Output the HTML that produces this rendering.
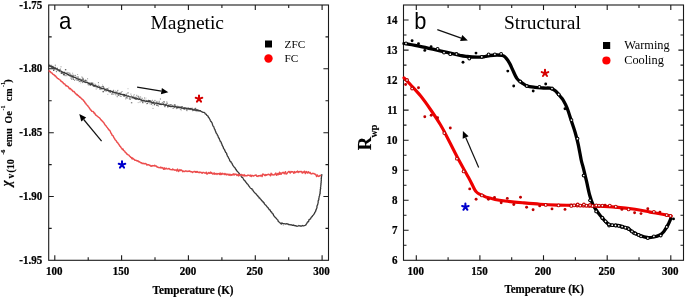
<!DOCTYPE html>
<html><head><meta charset="utf-8"><style>
html,body{margin:0;padding:0;background:#fff;}
body{width:685px;height:298px;overflow:hidden;}
svg{display:block;will-change:transform;}

</style></head><body>
<svg width="685" height="298" viewBox="0 0 685 298">
<rect x="48.7" y="5" width="279.8" height="255.3" fill="none" stroke="#1a1a1a" stroke-width="1.1"/>
<path d="M54.8 260.3v-5.1M54.8 5v5.1M121.6 260.3v-5.1M121.6 5v5.1M188.4 260.3v-5.1M188.4 5v5.1M255.3 260.3v-5.1M255.3 5v5.1M322.1 260.3v-5.1M322.1 5v5.1M88.2 260.3v-3M88.2 5v3M155 260.3v-3M155 5v3M221.9 260.3v-3M221.9 5v3M288.7 260.3v-3M288.7 5v3M48.7 68.8h5.1M328.5 68.8h-5.1M48.7 132.7h5.1M328.5 132.7h-5.1M48.7 196.5h5.1M328.5 196.5h-5.1M48.7 36.9h3M328.5 36.9h-3M48.7 100.7h3M328.5 100.7h-3M48.7 164.6h3M328.5 164.6h-3M48.7 228.4h3M328.5 228.4h-3" stroke="#1a1a1a" stroke-width="1.1" fill="none"/>
<rect x="403.5" y="5" width="280.0" height="255.3" fill="none" stroke="#1a1a1a" stroke-width="1.1"/>
<path d="M416.3 260.3v-5.1M416.3 5v5.1M479.9 260.3v-5.1M479.9 5v5.1M543.5 260.3v-5.1M543.5 5v5.1M607.2 260.3v-5.1M607.2 5v5.1M670.8 260.3v-5.1M670.8 5v5.1M448.1 260.3v-3M448.1 5v3M511.7 260.3v-3M511.7 5v3M575.4 260.3v-3M575.4 5v3M639 260.3v-3M639 5v3M403.5 230.3h5.1M683.5 230.3h-5.1M403.5 200.2h5.1M683.5 200.2h-5.1M403.5 170.2h5.1M683.5 170.2h-5.1M403.5 140.2h5.1M683.5 140.2h-5.1M403.5 110.1h5.1M683.5 110.1h-5.1M403.5 80.1h5.1M683.5 80.1h-5.1M403.5 50.1h5.1M683.5 50.1h-5.1M403.5 20h5.1M683.5 20h-5.1M403.5 245.3h3M683.5 245.3h-3M403.5 215.2h3M683.5 215.2h-3M403.5 185.2h3M683.5 185.2h-3M403.5 155.2h3M683.5 155.2h-3M403.5 125.1h3M683.5 125.1h-3M403.5 95.1h3M683.5 95.1h-3M403.5 65.1h3M683.5 65.1h-3M403.5 35h3M683.5 35h-3" stroke="#1a1a1a" stroke-width="1.1" fill="none"/>
<text transform="translate(54.3 275.1) scale(0.94 1)" font-family="Liberation Serif" font-weight="bold" font-size="11.7" stroke="#000" stroke-width="0.25" text-anchor="middle">100</text>
<text transform="translate(415.8 275.1) scale(0.94 1)" font-family="Liberation Serif" font-weight="bold" font-size="11.7" stroke="#000" stroke-width="0.25" text-anchor="middle">100</text>
<text transform="translate(121.1 275.1) scale(0.94 1)" font-family="Liberation Serif" font-weight="bold" font-size="11.7" stroke="#000" stroke-width="0.25" text-anchor="middle">150</text>
<text transform="translate(479.4 275.1) scale(0.94 1)" font-family="Liberation Serif" font-weight="bold" font-size="11.7" stroke="#000" stroke-width="0.25" text-anchor="middle">150</text>
<text transform="translate(187.9 275.1) scale(0.94 1)" font-family="Liberation Serif" font-weight="bold" font-size="11.7" stroke="#000" stroke-width="0.25" text-anchor="middle">200</text>
<text transform="translate(543 275.1) scale(0.94 1)" font-family="Liberation Serif" font-weight="bold" font-size="11.7" stroke="#000" stroke-width="0.25" text-anchor="middle">200</text>
<text transform="translate(254.8 275.1) scale(0.94 1)" font-family="Liberation Serif" font-weight="bold" font-size="11.7" stroke="#000" stroke-width="0.25" text-anchor="middle">250</text>
<text transform="translate(606.7 275.1) scale(0.94 1)" font-family="Liberation Serif" font-weight="bold" font-size="11.7" stroke="#000" stroke-width="0.25" text-anchor="middle">250</text>
<text transform="translate(321.6 275.1) scale(0.94 1)" font-family="Liberation Serif" font-weight="bold" font-size="11.7" stroke="#000" stroke-width="0.25" text-anchor="middle">300</text>
<text transform="translate(670.3 275.1) scale(0.94 1)" font-family="Liberation Serif" font-weight="bold" font-size="11.7" stroke="#000" stroke-width="0.25" text-anchor="middle">300</text>
<text transform="translate(42.2 8.5) scale(0.94 1)" font-family="Liberation Serif" font-weight="bold" font-size="11.7" stroke="#000" stroke-width="0.25" text-anchor="end">-1.75</text>
<text transform="translate(42.2 72.3) scale(0.94 1)" font-family="Liberation Serif" font-weight="bold" font-size="11.7" stroke="#000" stroke-width="0.25" text-anchor="end">-1.80</text>
<text transform="translate(42.2 136.2) scale(0.94 1)" font-family="Liberation Serif" font-weight="bold" font-size="11.7" stroke="#000" stroke-width="0.25" text-anchor="end">-1.85</text>
<text transform="translate(42.2 200) scale(0.94 1)" font-family="Liberation Serif" font-weight="bold" font-size="11.7" stroke="#000" stroke-width="0.25" text-anchor="end">-1.90</text>
<text transform="translate(42.2 263.8) scale(0.94 1)" font-family="Liberation Serif" font-weight="bold" font-size="11.7" stroke="#000" stroke-width="0.25" text-anchor="end">-1.95</text>
<text transform="translate(397.6 264.3) scale(0.94 1)" font-family="Liberation Serif" font-weight="bold" font-size="11.7" stroke="#000" stroke-width="0.25" text-anchor="end">6</text>
<text transform="translate(397.6 234.3) scale(0.94 1)" font-family="Liberation Serif" font-weight="bold" font-size="11.7" stroke="#000" stroke-width="0.25" text-anchor="end">7</text>
<text transform="translate(397.6 204.2) scale(0.94 1)" font-family="Liberation Serif" font-weight="bold" font-size="11.7" stroke="#000" stroke-width="0.25" text-anchor="end">8</text>
<text transform="translate(397.6 174.2) scale(0.94 1)" font-family="Liberation Serif" font-weight="bold" font-size="11.7" stroke="#000" stroke-width="0.25" text-anchor="end">9</text>
<text transform="translate(397.6 144.2) scale(0.94 1)" font-family="Liberation Serif" font-weight="bold" font-size="11.7" stroke="#000" stroke-width="0.25" text-anchor="end">10</text>
<text transform="translate(397.6 114.1) scale(0.94 1)" font-family="Liberation Serif" font-weight="bold" font-size="11.7" stroke="#000" stroke-width="0.25" text-anchor="end">11</text>
<text transform="translate(397.6 84.1) scale(0.94 1)" font-family="Liberation Serif" font-weight="bold" font-size="11.7" stroke="#000" stroke-width="0.25" text-anchor="end">12</text>
<text transform="translate(397.6 54.1) scale(0.94 1)" font-family="Liberation Serif" font-weight="bold" font-size="11.7" stroke="#000" stroke-width="0.25" text-anchor="end">13</text>
<text transform="translate(397.6 24) scale(0.94 1)" font-family="Liberation Serif" font-weight="bold" font-size="11.7" stroke="#000" stroke-width="0.25" text-anchor="end">14</text>
<text x="152.6" y="293.6" font-family="Liberation Serif" font-weight="bold" font-size="11.6" stroke="#000" stroke-width="0.2" textLength="81" lengthAdjust="spacingAndGlyphs">Temperature (K)</text>
<text x="504.4" y="293.4" font-family="Liberation Serif" font-weight="bold" font-size="11.6" stroke="#000" stroke-width="0.2" textLength="79.6" lengthAdjust="spacingAndGlyphs">Temperature (K)</text>
<text transform="translate(59 28.9) scale(0.93 1)" font-family="Liberation Sans" font-size="24">a</text>
<text x="150.4" y="29.2" font-family="Liberation Serif" font-size="19.5">Magnetic</text>
<text transform="translate(414.2 28.5) scale(0.95 1)" font-family="Liberation Sans" font-size="23">b</text>
<text x="504" y="29.1" font-family="Liberation Serif" font-size="19.5">Structural</text>
<rect x="265" y="40.5" width="7" height="7" fill="#000"/>
<circle cx="268.5" cy="58.5" r="4.2" fill="#f00"/>
<text x="284.6" y="47.6" font-family="Liberation Serif" font-size="11.2">ZFC</text>
<text x="284.6" y="62.3" font-family="Liberation Serif" font-size="11.2">FC</text>
<rect x="603" y="42" width="7.2" height="7" fill="#000"/>
<circle cx="606.4" cy="60.5" r="4.1" fill="#f00"/>
<text x="624.2" y="49.3" font-family="Liberation Serif" font-size="12.3">Warming</text>
<text x="624.2" y="64" font-family="Liberation Serif" font-size="12.3">Cooling</text>
<text transform="translate(11.4 186.2) rotate(-90) scale(0.88 1)" font-family="Liberation Serif" font-weight="bold" font-style="italic" font-size="14.5" stroke="#000" stroke-width="0.2">&#967;</text>
<text transform="translate(14 178.4) rotate(-90)" font-family="Liberation Serif" font-weight="bold" font-size="9.4" stroke="#000" stroke-width="0.15" >v</text>
<text transform="translate(14.2 172.8) rotate(-90)" font-family="Liberation Serif" font-weight="bold" font-size="10.4" stroke="#000" stroke-width="0.15" >(10</text>
<text transform="translate(5.2 154.8) rotate(-90)" font-family="Liberation Serif" font-weight="bold" font-size="6.4" stroke="#000" stroke-width="0.15" >-6</text>
<text transform="translate(12.1 146.6) rotate(-90)" font-family="Liberation Serif" font-weight="bold" font-size="10" stroke="#000" stroke-width="0.15" >emu</text>
<text transform="translate(12.1 123.4) rotate(-90)" font-family="Liberation Serif" font-weight="bold" font-size="10" stroke="#000" stroke-width="0.15" >Oe</text>
<text transform="translate(4.7 110.4) rotate(-90)" font-family="Liberation Serif" font-weight="bold" font-size="6" stroke="#000" stroke-width="0.15" >-1</text>
<text transform="translate(11.9 101.2) rotate(-90)" font-family="Liberation Serif" font-weight="bold" font-size="10" stroke="#000" stroke-width="0.15" >cm</text>
<text transform="translate(4.7 87.1) rotate(-90)" font-family="Liberation Serif" font-weight="bold" font-size="6" stroke="#000" stroke-width="0.15" >-1</text>
<text transform="translate(11.3 82.8) rotate(-90)" font-family="Liberation Serif" font-weight="bold" font-size="10" stroke="#000" stroke-width="0.15" >)</text>
<text transform="translate(371.1 150.2) rotate(-90)" font-family="Liberation Serif" font-weight="bold" font-size="18.5" stroke="#000" stroke-width="0.15" >R</text>
<text transform="translate(377.2 137.4) rotate(-90)" font-family="Liberation Serif" font-weight="bold" font-size="10" stroke="#000" stroke-width="0.15" >wp</text>
<g fill="#333"><rect x="48" y="64.4" width="1.0" height="1.0" opacity="0.29"/><rect x="48" y="66.6" width="1.0" height="1.0" opacity="0.53"/><rect x="48.6" y="65.9" width="1.0" height="1.0" opacity="0.70"/><rect x="48.8" y="65.5" width="1.0" height="1.0" opacity="0.77"/><rect x="49.3" y="66.1" width="1.0" height="1.0" opacity="0.41"/><rect x="49.7" y="65.5" width="1.0" height="1.0" opacity="0.70"/><rect x="50.1" y="64.9" width="1.0" height="1.0" opacity="0.28"/><rect x="50.4" y="64.7" width="1.0" height="1.0" opacity="0.49"/><rect x="51.2" y="64.9" width="1.0" height="1.0" opacity="0.63"/><rect x="50.7" y="66.5" width="1.4" height="1.4" opacity="0.73"/><rect x="51.8" y="67.5" width="1.0" height="1.0" opacity="0.67"/><rect x="51.7" y="66.2" width="1.4" height="1.4" opacity="0.62"/><rect x="52.6" y="68" width="1.0" height="1.0" opacity="0.58"/><rect x="52.7" y="65.9" width="1.0" height="1.0" opacity="0.77"/><rect x="53" y="69.6" width="1.4" height="1.4" opacity="0.80"/><rect x="53.3" y="68.3" width="1.0" height="1.0" opacity="0.62"/><rect x="53.9" y="68.5" width="1.0" height="1.0" opacity="0.67"/><rect x="54.1" y="68.4" width="1.0" height="1.0" opacity="0.73"/><rect x="54.8" y="64.7" width="1.0" height="1.0" opacity="0.73"/><rect x="54.4" y="66.8" width="1.4" height="1.4" opacity="0.74"/><rect x="55.4" y="69" width="1.0" height="1.0" opacity="0.52"/><rect x="55.7" y="70.6" width="1.0" height="1.0" opacity="0.48"/><rect x="56" y="71.2" width="1.0" height="1.0" opacity="0.59"/><rect x="56.4" y="67.8" width="1.4" height="1.4" opacity="0.68"/><rect x="56.8" y="67.8" width="1.0" height="1.0" opacity="0.60"/><rect x="56.7" y="70.2" width="1.0" height="1.0" opacity="0.34"/><rect x="58.1" y="70.4" width="1.0" height="1.0" opacity="0.45"/><rect x="57.7" y="69.5" width="1.0" height="1.0" opacity="0.33"/><rect x="58.6" y="69.3" width="1.0" height="1.0" opacity="0.80"/><rect x="58.4" y="70.5" width="1.0" height="1.0" opacity="0.31"/><rect x="59.1" y="71.1" width="1.0" height="1.0" opacity="0.77"/><rect x="59.7" y="69.3" width="1.0" height="1.0" opacity="0.26"/><rect x="60.3" y="72.3" width="1.0" height="1.0" opacity="0.45"/><rect x="59.9" y="68.6" width="1.0" height="1.0" opacity="0.68"/><rect x="60.8" y="72.6" width="1.4" height="1.4" opacity="0.69"/><rect x="60.5" y="66.3" width="1.0" height="1.0" opacity="0.53"/><rect x="61.4" y="72.4" width="1.4" height="1.4" opacity="0.63"/><rect x="61.3" y="71.3" width="1.4" height="1.4" opacity="0.79"/><rect x="62.7" y="71.9" width="1.0" height="1.0" opacity="0.36"/><rect x="62.6" y="72.8" width="1.0" height="1.0" opacity="0.51"/><rect x="62.9" y="73.9" width="1.4" height="1.4" opacity="0.68"/><rect x="63.3" y="73.3" width="1.0" height="1.0" opacity="0.68"/><rect x="63.4" y="73.8" width="1.4" height="1.4" opacity="0.77"/><rect x="63.9" y="71.8" width="1.4" height="1.4" opacity="0.33"/><rect x="64.6" y="74.6" width="1.0" height="1.0" opacity="0.61"/><rect x="64.5" y="75" width="1.4" height="1.4" opacity="0.26"/><rect x="64.9" y="69" width="1.4" height="1.4" opacity="0.73"/><rect x="65.4" y="72.4" width="1.0" height="1.0" opacity="0.41"/><rect x="66.1" y="73.3" width="1.0" height="1.0" opacity="0.75"/><rect x="66.4" y="75.2" width="1.0" height="1.0" opacity="0.75"/><rect x="66.6" y="71.7" width="1.0" height="1.0" opacity="0.26"/><rect x="66.8" y="73.7" width="1.0" height="1.0" opacity="0.69"/><rect x="67.8" y="73.8" width="1.0" height="1.0" opacity="0.54"/><rect x="67.4" y="72" width="1.0" height="1.0" opacity="0.56"/><rect x="68.1" y="74.6" width="1.4" height="1.4" opacity="0.67"/><rect x="68.5" y="72.5" width="1.0" height="1.0" opacity="0.53"/><rect x="69.4" y="72.8" width="1.0" height="1.0" opacity="0.77"/><rect x="69.5" y="75.4" width="1.0" height="1.0" opacity="0.39"/><rect x="69.6" y="75.6" width="1.0" height="1.0" opacity="0.49"/><rect x="70" y="74.2" width="1.4" height="1.4" opacity="0.62"/><rect x="70.8" y="76.8" width="1.4" height="1.4" opacity="0.33"/><rect x="70.6" y="77.7" width="1.0" height="1.0" opacity="0.77"/><rect x="71.2" y="79" width="1.0" height="1.0" opacity="0.49"/><rect x="70.8" y="75.4" width="1.4" height="1.4" opacity="0.43"/><rect x="72.1" y="72.7" width="1.0" height="1.0" opacity="0.43"/><rect x="72.3" y="74.7" width="1.4" height="1.4" opacity="0.79"/><rect x="72.6" y="78.6" width="1.0" height="1.0" opacity="0.68"/><rect x="72.5" y="77.1" width="1.4" height="1.4" opacity="0.75"/><rect x="73.2" y="79" width="1.0" height="1.0" opacity="0.64"/><rect x="74" y="79.9" width="1.0" height="1.0" opacity="0.48"/><rect x="74.6" y="75.1" width="1.0" height="1.0" opacity="0.72"/><rect x="74.7" y="74.8" width="1.0" height="1.0" opacity="0.44"/><rect x="74.8" y="77.3" width="1.0" height="1.0" opacity="0.38"/><rect x="74.9" y="79.2" width="1.0" height="1.0" opacity="0.36"/><rect x="75.5" y="77.9" width="1.0" height="1.0" opacity="0.35"/><rect x="75.7" y="76.2" width="1.4" height="1.4" opacity="0.26"/><rect x="76.3" y="78.6" width="1.4" height="1.4" opacity="0.31"/><rect x="76.6" y="79.9" width="1.0" height="1.0" opacity="0.71"/><rect x="77.3" y="76.4" width="1.4" height="1.4" opacity="0.71"/><rect x="77.1" y="74" width="1.0" height="1.0" opacity="0.44"/><rect x="78.4" y="81.3" width="1.0" height="1.0" opacity="0.34"/><rect x="77.9" y="79.9" width="1.0" height="1.0" opacity="0.62"/><rect x="79.2" y="78.5" width="1.0" height="1.0" opacity="0.50"/><rect x="79.2" y="80.9" width="1.0" height="1.0" opacity="0.55"/><rect x="79.6" y="78.2" width="1.0" height="1.0" opacity="0.46"/><rect x="79.4" y="80.8" width="1.0" height="1.0" opacity="0.53"/><rect x="80.1" y="82.5" width="1.0" height="1.0" opacity="0.26"/><rect x="80.3" y="80.4" width="1.4" height="1.4" opacity="0.54"/><rect x="80.6" y="79" width="1.4" height="1.4" opacity="0.43"/><rect x="81.4" y="76.5" width="1.0" height="1.0" opacity="0.60"/><rect x="81.9" y="82.1" width="1.0" height="1.0" opacity="0.70"/><rect x="81.9" y="78.5" width="1.4" height="1.4" opacity="0.71"/><rect x="82.2" y="77.4" width="1.0" height="1.0" opacity="0.63"/><rect x="82.9" y="78.7" width="1.0" height="1.0" opacity="0.45"/><rect x="83" y="78.6" width="1.0" height="1.0" opacity="0.62"/><rect x="83.4" y="80" width="1.0" height="1.0" opacity="0.66"/><rect x="83.9" y="80.8" width="1.0" height="1.0" opacity="0.39"/><rect x="84.3" y="80.4" width="1.4" height="1.4" opacity="0.36"/><rect x="84.7" y="79.6" width="1.4" height="1.4" opacity="0.63"/><rect x="84.7" y="81.5" width="1.0" height="1.0" opacity="0.29"/><rect x="85.4" y="81.7" width="1.0" height="1.0" opacity="0.26"/><rect x="85.4" y="80.3" width="1.0" height="1.0" opacity="0.63"/><rect x="85.9" y="79.9" width="1.4" height="1.4" opacity="0.32"/><rect x="86.3" y="81.8" width="1.0" height="1.0" opacity="0.76"/><rect x="87.5" y="84.2" width="1.0" height="1.0" opacity="0.40"/><rect x="87.1" y="78.3" width="1.0" height="1.0" opacity="0.57"/><rect x="87.8" y="83.3" width="1.4" height="1.4" opacity="0.53"/><rect x="87.5" y="82.4" width="1.0" height="1.0" opacity="0.74"/><rect x="88.5" y="84.9" width="1.0" height="1.0" opacity="0.42"/><rect x="88.8" y="83" width="1.0" height="1.0" opacity="0.71"/><rect x="89" y="83.5" width="1.4" height="1.4" opacity="0.64"/><rect x="89.2" y="82.3" width="1.4" height="1.4" opacity="0.47"/><rect x="90.4" y="82.4" width="1.0" height="1.0" opacity="0.28"/><rect x="89.9" y="84.9" width="1.0" height="1.0" opacity="0.76"/><rect x="90.9" y="82.5" width="1.4" height="1.4" opacity="0.78"/><rect x="90.7" y="83.5" width="1.4" height="1.4" opacity="0.75"/><rect x="91.5" y="83.8" width="1.4" height="1.4" opacity="0.50"/><rect x="91.1" y="83.4" width="1.4" height="1.4" opacity="0.28"/><rect x="92" y="82.6" width="1.4" height="1.4" opacity="0.66"/><rect x="92.3" y="84.7" width="1.0" height="1.0" opacity="0.42"/><rect x="92.9" y="85.2" width="1.0" height="1.0" opacity="0.75"/><rect x="92.8" y="85.6" width="1.0" height="1.0" opacity="0.80"/><rect x="93.7" y="85.2" width="1.0" height="1.0" opacity="0.30"/><rect x="93.6" y="85.5" width="1.4" height="1.4" opacity="0.74"/><rect x="94.4" y="83.5" width="1.0" height="1.0" opacity="0.44"/><rect x="94.7" y="86.3" width="1.0" height="1.0" opacity="0.32"/><rect x="95.3" y="86.3" width="1.0" height="1.0" opacity="0.39"/><rect x="94.8" y="84.5" width="1.4" height="1.4" opacity="0.72"/><rect x="95.7" y="88.5" width="1.0" height="1.0" opacity="0.51"/><rect x="96.2" y="86.2" width="1.4" height="1.4" opacity="0.76"/><rect x="97" y="87.4" width="1.0" height="1.0" opacity="0.33"/><rect x="97.1" y="85.9" width="1.0" height="1.0" opacity="0.65"/><rect x="97.9" y="82.2" width="1.0" height="1.0" opacity="0.68"/><rect x="97.4" y="87" width="1.0" height="1.0" opacity="0.42"/><rect x="98.4" y="84.9" width="1.0" height="1.0" opacity="0.29"/><rect x="98" y="84.7" width="1.0" height="1.0" opacity="0.37"/><rect x="98.9" y="86.1" width="1.4" height="1.4" opacity="0.60"/><rect x="99.1" y="88.5" width="1.4" height="1.4" opacity="0.39"/><rect x="99.7" y="87" width="1.0" height="1.0" opacity="0.62"/><rect x="99.5" y="87.5" width="1.0" height="1.0" opacity="0.76"/><rect x="100.6" y="86.3" width="1.4" height="1.4" opacity="0.36"/><rect x="100.2" y="88.7" width="1.4" height="1.4" opacity="0.36"/><rect x="101.7" y="88.2" width="1.0" height="1.0" opacity="0.67"/><rect x="101.3" y="86.6" width="1.0" height="1.0" opacity="0.35"/><rect x="102.5" y="85.9" width="1.0" height="1.0" opacity="0.47"/><rect x="102" y="84.4" width="1.0" height="1.0" opacity="0.28"/><rect x="102.5" y="90.9" width="1.4" height="1.4" opacity="0.80"/><rect x="102.3" y="85.9" width="1.4" height="1.4" opacity="0.76"/><rect x="103.2" y="87.6" width="1.0" height="1.0" opacity="0.43"/><rect x="103.1" y="86.9" width="1.4" height="1.4" opacity="0.44"/><rect x="104.1" y="89.7" width="1.4" height="1.4" opacity="0.70"/><rect x="104.7" y="88.2" width="1.0" height="1.0" opacity="0.51"/><rect x="105.3" y="89.6" width="1.0" height="1.0" opacity="0.27"/><rect x="104.8" y="90.5" width="1.0" height="1.0" opacity="0.27"/><rect x="105.7" y="90.4" width="1.0" height="1.0" opacity="0.74"/><rect x="106" y="88.6" width="1.0" height="1.0" opacity="0.59"/><rect x="106.5" y="88.2" width="1.4" height="1.4" opacity="0.67"/><rect x="106.6" y="90.7" width="1.0" height="1.0" opacity="0.26"/><rect x="107.3" y="93.8" width="1.0" height="1.0" opacity="0.39"/><rect x="107.3" y="88.4" width="1.4" height="1.4" opacity="0.35"/><rect x="108" y="91.2" width="1.0" height="1.0" opacity="0.43"/><rect x="108.3" y="87.3" width="1.0" height="1.0" opacity="0.29"/><rect x="109.2" y="90.2" width="1.0" height="1.0" opacity="0.55"/><rect x="108.5" y="90.8" width="1.0" height="1.0" opacity="0.79"/><rect x="109.5" y="92.1" width="1.0" height="1.0" opacity="0.50"/><rect x="109.7" y="91.4" width="1.4" height="1.4" opacity="0.62"/><rect x="110.2" y="90.2" width="1.0" height="1.0" opacity="0.41"/><rect x="110.1" y="89.9" width="1.0" height="1.0" opacity="0.36"/><rect x="111.5" y="92.9" width="1.0" height="1.0" opacity="0.43"/><rect x="111" y="93.6" width="1.4" height="1.4" opacity="0.38"/><rect x="112" y="91.7" width="1.4" height="1.4" opacity="0.70"/><rect x="111.6" y="91.1" width="1.0" height="1.0" opacity="0.41"/><rect x="112.4" y="93.4" width="1.4" height="1.4" opacity="0.45"/><rect x="112.1" y="90.8" width="1.4" height="1.4" opacity="0.68"/><rect x="113.1" y="89.7" width="1.0" height="1.0" opacity="0.45"/><rect x="113.1" y="90.3" width="1.0" height="1.0" opacity="0.58"/><rect x="113.9" y="93.4" width="1.0" height="1.0" opacity="0.35"/><rect x="113.8" y="92" width="1.0" height="1.0" opacity="0.55"/><rect x="115" y="90.4" width="1.0" height="1.0" opacity="0.30"/><rect x="115.2" y="93.4" width="1.0" height="1.0" opacity="0.41"/><rect x="115.8" y="91.3" width="1.4" height="1.4" opacity="0.48"/><rect x="115.2" y="94.1" width="1.4" height="1.4" opacity="0.36"/><rect x="116.7" y="96.2" width="1.0" height="1.0" opacity="0.70"/><rect x="116.4" y="92.7" width="1.0" height="1.0" opacity="0.34"/><rect x="117.1" y="90.4" width="1.0" height="1.0" opacity="0.59"/><rect x="117.4" y="89.8" width="1.0" height="1.0" opacity="0.41"/><rect x="117.6" y="94.5" width="1.0" height="1.0" opacity="0.78"/><rect x="117.5" y="94.2" width="1.0" height="1.0" opacity="0.79"/><rect x="118.1" y="94.5" width="1.4" height="1.4" opacity="0.59"/><rect x="118.9" y="92.4" width="1.0" height="1.0" opacity="0.37"/><rect x="119.3" y="93.9" width="1.0" height="1.0" opacity="0.47"/><rect x="119.5" y="92.2" width="1.4" height="1.4" opacity="0.39"/><rect x="119.6" y="95.5" width="1.4" height="1.4" opacity="0.27"/><rect x="119.9" y="94.1" width="1.0" height="1.0" opacity="0.55"/><rect x="120.8" y="91.8" width="1.0" height="1.0" opacity="0.61"/><rect x="120.6" y="95.9" width="1.0" height="1.0" opacity="0.59"/><rect x="121.3" y="94.2" width="1.0" height="1.0" opacity="0.35"/><rect x="121.6" y="91" width="1.0" height="1.0" opacity="0.49"/><rect x="122.4" y="93.5" width="1.4" height="1.4" opacity="0.30"/><rect x="122.3" y="94.2" width="1.0" height="1.0" opacity="0.28"/><rect x="123.2" y="95.1" width="1.4" height="1.4" opacity="0.80"/><rect x="123.5" y="94.1" width="1.0" height="1.0" opacity="0.79"/><rect x="123.7" y="95.5" width="1.0" height="1.0" opacity="0.76"/><rect x="123.5" y="93.9" width="1.4" height="1.4" opacity="0.34"/><rect x="124.4" y="95.2" width="1.0" height="1.0" opacity="0.76"/><rect x="124.3" y="94" width="1.0" height="1.0" opacity="0.43"/><rect x="125.6" y="97.2" width="1.0" height="1.0" opacity="0.74"/><rect x="125.2" y="98.4" width="1.0" height="1.0" opacity="0.54"/><rect x="126.5" y="96.8" width="1.0" height="1.0" opacity="0.74"/><rect x="125.7" y="93.5" width="1.4" height="1.4" opacity="0.47"/><rect x="126.6" y="97.7" width="1.0" height="1.0" opacity="0.67"/><rect x="126.5" y="95.1" width="1.4" height="1.4" opacity="0.28"/><rect x="127.2" y="92.5" width="1.0" height="1.0" opacity="0.62"/><rect x="127.5" y="88.2" width="1.0" height="1.0" opacity="0.33"/><rect x="128" y="92.3" width="1.0" height="1.0" opacity="0.37"/><rect x="128.2" y="95.3" width="1.0" height="1.0" opacity="0.45"/><rect x="129.1" y="96.5" width="1.0" height="1.0" opacity="0.36"/><rect x="128.8" y="98.3" width="1.0" height="1.0" opacity="0.77"/><rect x="129.7" y="98.3" width="1.0" height="1.0" opacity="0.68"/><rect x="129.7" y="99" width="1.0" height="1.0" opacity="0.60"/><rect x="130.9" y="95.4" width="1.0" height="1.0" opacity="0.65"/><rect x="130.4" y="93.6" width="1.0" height="1.0" opacity="0.54"/><rect x="130.9" y="102" width="1.4" height="1.4" opacity="0.55"/><rect x="131.5" y="97.8" width="1.0" height="1.0" opacity="0.58"/><rect x="132.4" y="97.3" width="1.0" height="1.0" opacity="0.42"/><rect x="132.4" y="96" width="1.0" height="1.0" opacity="0.64"/><rect x="132.5" y="97.1" width="1.0" height="1.0" opacity="0.50"/><rect x="133" y="95.2" width="1.0" height="1.0" opacity="0.27"/><rect x="133.5" y="96.2" width="1.0" height="1.0" opacity="0.40"/><rect x="133.7" y="94.3" width="1.0" height="1.0" opacity="0.54"/><rect x="134.1" y="98.7" width="1.0" height="1.0" opacity="0.26"/><rect x="134" y="97.1" width="1.4" height="1.4" opacity="0.77"/><rect x="135.3" y="98.9" width="1.0" height="1.0" opacity="0.75"/><rect x="135.4" y="96.7" width="1.0" height="1.0" opacity="0.79"/><rect x="135.7" y="96.9" width="1.0" height="1.0" opacity="0.65"/><rect x="136.2" y="94.8" width="1.0" height="1.0" opacity="0.59"/><rect x="136.3" y="98.4" width="1.0" height="1.0" opacity="0.76"/><rect x="136.7" y="98.8" width="1.0" height="1.0" opacity="0.27"/><rect x="137.6" y="96.6" width="1.0" height="1.0" opacity="0.57"/><rect x="137.6" y="95.7" width="1.0" height="1.0" opacity="0.74"/><rect x="137.7" y="102.1" width="1.0" height="1.0" opacity="0.36"/><rect x="138.4" y="96.5" width="1.0" height="1.0" opacity="0.70"/><rect x="138.4" y="97.6" width="1.4" height="1.4" opacity="0.30"/><rect x="138.7" y="97.7" width="1.0" height="1.0" opacity="0.48"/><rect x="139.4" y="98.2" width="1.4" height="1.4" opacity="0.43"/><rect x="139.5" y="101.6" width="1.0" height="1.0" opacity="0.59"/><rect x="140.1" y="96.5" width="1.0" height="1.0" opacity="0.64"/><rect x="139.9" y="100.1" width="1.4" height="1.4" opacity="0.30"/><rect x="141.1" y="100.5" width="1.0" height="1.0" opacity="0.79"/><rect x="141.1" y="99.4" width="1.0" height="1.0" opacity="0.69"/><rect x="141.6" y="97.8" width="1.0" height="1.0" opacity="0.77"/><rect x="142" y="102.1" width="1.0" height="1.0" opacity="0.52"/><rect x="142.5" y="102.3" width="1.0" height="1.0" opacity="0.68"/><rect x="142.1" y="101" width="1.4" height="1.4" opacity="0.47"/><rect x="143.2" y="100.1" width="1.4" height="1.4" opacity="0.39"/><rect x="143.3" y="99.8" width="1.0" height="1.0" opacity="0.74"/><rect x="144" y="97.5" width="1.0" height="1.0" opacity="0.61"/><rect x="144.3" y="99.7" width="1.0" height="1.0" opacity="0.71"/><rect x="144.8" y="101.2" width="1.0" height="1.0" opacity="0.57"/><rect x="144.7" y="101.9" width="1.0" height="1.0" opacity="0.38"/><rect x="145.5" y="99.7" width="1.0" height="1.0" opacity="0.34"/><rect x="145.4" y="97.6" width="1.0" height="1.0" opacity="0.34"/><rect x="146.3" y="103.2" width="1.0" height="1.0" opacity="0.78"/><rect x="146.1" y="100.1" width="1.4" height="1.4" opacity="0.69"/><rect x="146.7" y="101.6" width="1.0" height="1.0" opacity="0.36"/><rect x="147.1" y="103" width="1.0" height="1.0" opacity="0.69"/><rect x="148" y="99.9" width="1.0" height="1.0" opacity="0.58"/><rect x="148" y="99.8" width="1.0" height="1.0" opacity="0.49"/><rect x="148.6" y="100" width="1.4" height="1.4" opacity="0.73"/><rect x="148.6" y="101.7" width="1.0" height="1.0" opacity="0.62"/><rect x="149.3" y="100.3" width="1.4" height="1.4" opacity="0.48"/><rect x="149.3" y="103.3" width="1.0" height="1.0" opacity="0.39"/><rect x="150.2" y="100.4" width="1.0" height="1.0" opacity="0.76"/><rect x="150.5" y="100.5" width="1.0" height="1.0" opacity="0.46"/><rect x="150.7" y="103.3" width="1.4" height="1.4" opacity="0.68"/><rect x="151" y="102.1" width="1.0" height="1.0" opacity="0.57"/><rect x="152" y="99.8" width="1.0" height="1.0" opacity="0.54"/><rect x="151.8" y="101.7" width="1.0" height="1.0" opacity="0.63"/><rect x="152.3" y="105.1" width="1.0" height="1.0" opacity="0.28"/><rect x="152.5" y="107.9" width="1.0" height="1.0" opacity="0.48"/><rect x="152.9" y="101.3" width="1.4" height="1.4" opacity="0.66"/><rect x="152.9" y="103.1" width="1.0" height="1.0" opacity="0.69"/><rect x="153.9" y="104.1" width="1.0" height="1.0" opacity="0.60"/><rect x="154" y="104.2" width="1.0" height="1.0" opacity="0.78"/><rect x="154.3" y="103.6" width="1.0" height="1.0" opacity="0.41"/><rect x="154.2" y="99.9" width="1.4" height="1.4" opacity="0.45"/><rect x="155.5" y="101.9" width="1.0" height="1.0" opacity="0.35"/><rect x="155.3" y="103.4" width="1.0" height="1.0" opacity="0.38"/><rect x="156.2" y="100.9" width="1.4" height="1.4" opacity="0.45"/><rect x="156.1" y="104.4" width="1.4" height="1.4" opacity="0.71"/><rect x="157.2" y="104.7" width="1.0" height="1.0" opacity="0.26"/><rect x="156.6" y="105" width="1.0" height="1.0" opacity="0.39"/><rect x="157.6" y="103.2" width="1.4" height="1.4" opacity="0.33"/><rect x="157.8" y="105.5" width="1.0" height="1.0" opacity="0.74"/><rect x="158.5" y="101.9" width="1.0" height="1.0" opacity="0.71"/><rect x="158.7" y="100.8" width="1.0" height="1.0" opacity="0.66"/><rect x="158.7" y="102.5" width="1.0" height="1.0" opacity="0.33"/><rect x="159.1" y="103.2" width="1.0" height="1.0" opacity="0.33"/><rect x="159.9" y="98.5" width="1.0" height="1.0" opacity="0.71"/><rect x="159.8" y="103" width="1.0" height="1.0" opacity="0.71"/><rect x="160.7" y="104.3" width="1.0" height="1.0" opacity="0.60"/><rect x="161" y="103.7" width="1.0" height="1.0" opacity="0.76"/><rect x="161.3" y="102.3" width="1.4" height="1.4" opacity="0.27"/><rect x="161.3" y="103.9" width="1.0" height="1.0" opacity="0.72"/><rect x="162.1" y="101.9" width="1.0" height="1.0" opacity="0.49"/><rect x="161.8" y="103.5" width="1.4" height="1.4" opacity="0.41"/><rect x="163.1" y="103.2" width="1.0" height="1.0" opacity="0.79"/><rect x="162.9" y="104.2" width="1.0" height="1.0" opacity="0.42"/><rect x="163.4" y="101.3" width="1.4" height="1.4" opacity="0.65"/><rect x="163.4" y="101.1" width="1.0" height="1.0" opacity="0.42"/><rect x="164.2" y="105.8" width="1.4" height="1.4" opacity="0.68"/><rect x="164.4" y="103.7" width="1.0" height="1.0" opacity="0.59"/><rect x="164.6" y="104.1" width="1.4" height="1.4" opacity="0.50"/><rect x="165.2" y="103.7" width="1.4" height="1.4" opacity="0.27"/><rect x="165.7" y="104.2" width="1.0" height="1.0" opacity="0.68"/><rect x="165.8" y="103.8" width="1.0" height="1.0" opacity="0.48"/><rect x="166.3" y="101.4" width="1.0" height="1.0" opacity="0.56"/><rect x="166.4" y="102.6" width="1.4" height="1.4" opacity="0.57"/><rect x="167.1" y="106.1" width="1.4" height="1.4" opacity="0.77"/><rect x="167.1" y="105.2" width="1.0" height="1.0" opacity="0.31"/><rect x="168.5" y="105.5" width="1.0" height="1.0" opacity="0.63"/><rect x="167.7" y="105.4" width="1.0" height="1.0" opacity="0.73"/><rect x="169.1" y="105.2" width="1.0" height="1.0" opacity="0.35"/><rect x="168.3" y="104.3" width="1.4" height="1.4" opacity="0.72"/><rect x="170" y="104.3" width="1.0" height="1.0" opacity="0.76"/><rect x="169.7" y="104.2" width="1.0" height="1.0" opacity="0.26"/><rect x="170.6" y="105.8" width="1.0" height="1.0" opacity="0.65"/><rect x="170.4" y="105.2" width="1.0" height="1.0" opacity="0.28"/><rect x="171.2" y="104.2" width="1.0" height="1.0" opacity="0.69"/><rect x="171.3" y="106.4" width="1.0" height="1.0" opacity="0.48"/><rect x="172.2" y="107.7" width="1.0" height="1.0" opacity="0.41"/><rect x="171.9" y="105.2" width="1.0" height="1.0" opacity="0.71"/><rect x="172.9" y="108" width="1.0" height="1.0" opacity="0.42"/><rect x="172.9" y="105.7" width="1.0" height="1.0" opacity="0.63"/><rect x="173.4" y="106.7" width="1.0" height="1.0" opacity="0.39"/><rect x="173.6" y="105.3" width="1.0" height="1.0" opacity="0.74"/><rect x="174.1" y="106.8" width="1.4" height="1.4" opacity="0.40"/><rect x="173.8" y="104.3" width="1.0" height="1.0" opacity="0.75"/><rect x="174.4" y="104.4" width="1.4" height="1.4" opacity="0.66"/><rect x="174.6" y="105.7" width="1.0" height="1.0" opacity="0.62"/><rect x="175.8" y="106.4" width="1.0" height="1.0" opacity="0.50"/><rect x="175.9" y="108.2" width="1.0" height="1.0" opacity="0.38"/><rect x="176.1" y="107.5" width="1.0" height="1.0" opacity="0.57"/><rect x="176.4" y="105.8" width="1.0" height="1.0" opacity="0.64"/><rect x="176.8" y="105.5" width="1.4" height="1.4" opacity="0.27"/><rect x="176.6" y="107.2" width="1.4" height="1.4" opacity="0.60"/><rect x="178.2" y="106.1" width="1.0" height="1.0" opacity="0.26"/><rect x="177.7" y="106.3" width="1.0" height="1.0" opacity="0.52"/><rect x="178.8" y="106.9" width="1.4" height="1.4" opacity="0.67"/><rect x="178.3" y="105.9" width="1.0" height="1.0" opacity="0.27"/><rect x="179.7" y="107.3" width="1.0" height="1.0" opacity="0.73"/><rect x="179.3" y="107.2" width="1.0" height="1.0" opacity="0.29"/><rect x="180.5" y="108.9" width="1.0" height="1.0" opacity="0.56"/><rect x="179.8" y="108.8" width="1.0" height="1.0" opacity="0.47"/><rect x="180.7" y="110.1" width="1.0" height="1.0" opacity="0.27"/><rect x="180.3" y="106.5" width="1.4" height="1.4" opacity="0.75"/><rect x="181.3" y="107.7" width="1.0" height="1.0" opacity="0.79"/><rect x="181.4" y="106" width="1.0" height="1.0" opacity="0.77"/><rect x="182" y="106.2" width="1.0" height="1.0" opacity="0.43"/><rect x="182.1" y="106.7" width="1.0" height="1.0" opacity="0.34"/><rect x="183.4" y="107.5" width="1.0" height="1.0" opacity="0.36"/><rect x="183.2" y="107.3" width="1.4" height="1.4" opacity="0.76"/><rect x="183.8" y="108.1" width="1.4" height="1.4" opacity="0.76"/><rect x="183.6" y="108.3" width="1.4" height="1.4" opacity="0.44"/><rect x="184.4" y="107.3" width="1.4" height="1.4" opacity="0.28"/><rect x="184.5" y="107.5" width="1.0" height="1.0" opacity="0.73"/><rect x="185.3" y="108.3" width="1.0" height="1.0" opacity="0.43"/><rect x="185.7" y="108.5" width="1.0" height="1.0" opacity="0.75"/><rect x="185.9" y="109.7" width="1.0" height="1.0" opacity="0.37"/><rect x="186.5" y="108.7" width="1.0" height="1.0" opacity="0.36"/><rect x="186.3" y="109.8" width="1.4" height="1.4" opacity="0.41"/><rect x="186.3" y="107.9" width="1.4" height="1.4" opacity="0.41"/><rect x="187.4" y="108.3" width="1.4" height="1.4" opacity="0.25"/><rect x="187.2" y="107.3" width="1.4" height="1.4" opacity="0.49"/><rect x="187.9" y="107.7" width="1.4" height="1.4" opacity="0.67"/><rect x="188.3" y="108.1" width="1.0" height="1.0" opacity="0.30"/><rect x="189" y="108.2" width="1.4" height="1.4" opacity="0.64"/><rect x="188.8" y="108.8" width="1.4" height="1.4" opacity="0.29"/><rect x="189.9" y="108.3" width="1.4" height="1.4" opacity="0.43"/><rect x="189.6" y="108.1" width="1.4" height="1.4" opacity="0.26"/><rect x="190.3" y="109.1" width="1.0" height="1.0" opacity="0.71"/><rect x="190.6" y="108.2" width="1.0" height="1.0" opacity="0.58"/><rect x="191.4" y="107.7" width="1.4" height="1.4" opacity="0.64"/><rect x="191.6" y="109.1" width="1.0" height="1.0" opacity="0.64"/><rect x="192.1" y="110.3" width="1.0" height="1.0" opacity="0.52"/><rect x="191.7" y="109.3" width="1.4" height="1.4" opacity="0.26"/><rect x="192.5" y="109.2" width="1.0" height="1.0" opacity="0.70"/><rect x="192.9" y="109.3" width="1.0" height="1.0" opacity="0.36"/><rect x="193.6" y="108.2" width="1.4" height="1.4" opacity="0.31"/><rect x="193.6" y="108.3" width="1.0" height="1.0" opacity="0.32"/><rect x="194.6" y="109.2" width="1.0" height="1.0" opacity="0.33"/><rect x="193.9" y="109.4" width="1.4" height="1.4" opacity="0.57"/><rect x="194.9" y="109.9" width="1.4" height="1.4" opacity="0.48"/><rect x="194.8" y="107.8" width="1.4" height="1.4" opacity="0.77"/><rect x="196" y="109.3" width="1.4" height="1.4" opacity="0.79"/><rect x="195.9" y="110.1" width="1.0" height="1.0" opacity="0.72"/><rect x="196.5" y="111.1" width="1.0" height="1.0" opacity="0.48"/><rect x="196.6" y="109.2" width="1.0" height="1.0" opacity="0.29"/><rect x="197.3" y="109.9" width="1.4" height="1.4" opacity="0.68"/><rect x="196.8" y="109.6" width="1.4" height="1.4" opacity="0.74"/><rect x="198.4" y="109.7" width="1.0" height="1.0" opacity="0.40"/><rect x="198" y="109.6" width="1.0" height="1.0" opacity="0.39"/><rect x="198.9" y="110.6" width="1.0" height="1.0" opacity="0.61"/><rect x="198.8" y="110" width="1.0" height="1.0" opacity="0.53"/><rect x="200.4" y="110.7" width="1.0" height="1.0" opacity="0.39"/><rect x="202.8" y="112" width="1.0" height="1.0" opacity="0.33"/><rect x="207.6" y="116.1" width="1.0" height="1.0" opacity="0.46"/><rect x="210.8" y="121" width="1.0" height="1.0" opacity="0.37"/><rect x="214" y="127.7" width="1.0" height="1.0" opacity="0.37"/><rect x="219.6" y="141.2" width="1.0" height="1.0" opacity="0.32"/><rect x="222" y="144.6" width="1.0" height="1.0" opacity="0.52"/><rect x="222.8" y="147.2" width="1.0" height="1.0" opacity="0.37"/><rect x="225.2" y="151.5" width="1.0" height="1.0" opacity="0.50"/><rect x="234.8" y="168.4" width="1.0" height="1.0" opacity="0.56"/><rect x="235.6" y="169.1" width="1.0" height="1.0" opacity="0.45"/><rect x="251.6" y="188.3" width="1.0" height="1.0" opacity="0.39"/><rect x="252.4" y="189.3" width="1.0" height="1.0" opacity="0.33"/><rect x="257.2" y="195" width="1.0" height="1.0" opacity="0.43"/><rect x="258.8" y="197.9" width="1.0" height="1.0" opacity="0.45"/><rect x="270.8" y="211.9" width="1.0" height="1.0" opacity="0.41"/><rect x="281.2" y="222.1" width="1.0" height="1.0" opacity="0.55"/><rect x="282.8" y="224.5" width="1.0" height="1.0" opacity="0.57"/><rect x="287.6" y="223.5" width="1.0" height="1.0" opacity="0.45"/><rect x="288.4" y="224.6" width="1.0" height="1.0" opacity="0.35"/><rect x="293.2" y="224" width="1.0" height="1.0" opacity="0.39"/><rect x="294.8" y="225.8" width="1.0" height="1.0" opacity="0.39"/><rect x="298" y="224.8" width="1.0" height="1.0" opacity="0.38"/><rect x="302.8" y="225.3" width="1.0" height="1.0" opacity="0.35"/><rect x="304.4" y="224.9" width="1.0" height="1.0" opacity="0.46"/><rect x="307.6" y="221.3" width="1.0" height="1.0" opacity="0.30"/><rect x="311.6" y="216.1" width="1.0" height="1.0" opacity="0.57"/><rect x="315.6" y="209.5" width="1.0" height="1.0" opacity="0.57"/><rect x="319.6" y="192.6" width="1.0" height="1.0" opacity="0.56"/></g>
<polyline points="48.6,65.4 48.8,65 49.3,65.1 50,66 50.8,66.3 51.4,66.5 52.4,66.6 53.1,67.5 54,67.7 54.8,68.4 55.6,68.5 56.4,68.8 57.2,69.4 58,70.1 58.9,70 59.6,70.6 60.4,70.9 61.1,71.2 61.7,71.9 62.7,72.2 63.4,72.5 64.1,72.3 65,73.2 65.6,73.3 66.6,73.4 67.4,74.4 68.3,74.4 68.8,74.8 69.6,75.3 70.2,75.9 71,75.9 71.9,76.2 72.6,76.8 73.3,76.7 74.1,77.3 75.1,77.4 75.8,77.8 76.4,78.3 77.3,78.9 78.2,78.8 78.9,79.6 79.6,79.5 80.4,79.9 81.2,80.2 82,80.9 82.8,80.9 83.6,81.6 84.1,81.9 84.8,82 85.8,82.5 86.6,82.3 87.2,82.4 88.1,82.9 88.7,83.4 89.5,83.5 90.3,84.3 91.3,84.2 91.7,84.6 92.6,84.9 93.4,85 94.2,85.6 94.9,85.6 95.5,86.1 96.2,86.2 96.9,86.2 97.9,86.8 98.6,87.3 99.2,87.4 100.2,87.9 100.8,88.1 101.7,88.5 102.6,88.6 103.5,88.7 104.1,88.9 104.9,89.3 105.5,89.5 106.5,90 107.1,90.4 107.9,90.2 108.5,90.3 109.4,91.1 110.3,90.8 111.1,91.4 111.8,91.5 112.6,91.6 113.2,92 114.4,92.6 115,92.3 115.8,93 116.7,92.8 117.5,93.2 118.4,93.4 119,93.7 120.1,93.7 120.8,94.4 121.6,94.2 122.7,94.8 123.5,94.6 124.4,94.7 124.9,95.5 126,95.3 126.6,95.8 127.3,96.2 128.4,96.1 129.2,96.7 130,96.8 131,96.8 131.7,97 132.6,97.3 133.4,97.7 134.2,98.3 135,98.4 135.9,98.6 136.6,98.8 137.5,98.6 138.2,99 138.9,99.5 139.6,99 140.3,99.5 141.2,99.9 142.2,100.5 143.1,100.4 143.9,100.7 145.2,101.1 145.5,101.2 146.6,101.3 147,101.2 148,101.6 148.6,101.4 149.6,101.5 150.5,102 151.3,101.9 152,102.6 152.8,103.1 153.6,102.5 154.6,103.1 155.5,103.1 156.3,103.3 157,102.9 158,103.7 158.6,103.7 159.4,104 160,104.4 160.8,104.4 161.8,104.4 163,104.4 163.7,104.7 164.6,104.8 165.1,105.3 166,105.2 167,105.2 167.6,105.6 168.4,105.6 169.3,106.4 170,106.4 170.6,106.5 171.6,106.3 172.5,106.3 173.2,106.5 174.3,107 175,106.7 175.8,106.7 176.9,107.3 177.5,107.1 178.2,107.7 179.3,107.2 180.1,107.3 180.9,107.5 181.7,108 182.6,108.2 183.3,108.5 184.5,108.2 185.2,108.1 186,108.1 186.9,108.6 187.9,108.9 188.6,108.7 189.2,108.8 190,108.5 191.1,108.8 192,109.3 192.9,109.8 193.9,110 194.9,109.6 195.6,110.2 196.3,110 196.9,110.1 198,110.3 199,110.8 199.6,110.6 200.4,110.7 200.9,111.3 201.7,111.6 202.5,112.1 203.2,112.3 204.2,112.4 204.9,113 205.3,113.9 206.4,114.4 206.7,115.2 207.5,115.7 208,116 208.5,117.6 209.2,117.8 209.5,118.9 210.1,119.6 210.2,120.2 210.7,121.2 211.2,121.7 211.7,122.4 212.2,123.3 212.5,124.7 212.7,124.9 212.9,125.8 213.4,126.4 213.8,126.7 214.1,127.9 214.4,128.9 215,129.4 215,130.1 215.5,131.2 215.8,132.1 216.1,132.9 216.6,133.6 217.2,134.2 217.3,135.1 217.8,135.5 218.1,136.4 218.5,137.7 218.8,138.1 219.2,138.2 219.6,139.8 220,140.3 220.2,141.1 220.8,141.9 221.2,142.1 221.4,143.5 221.8,143.8 222.1,145.3 222.4,145.5 222.8,146.4 223.4,147.5 223.5,148.5 224,148.9 224.7,149.8 224.7,150.5 225.2,151.2 225.6,152.4 226,152.6 226.7,153.4 226.7,154.4 227.1,154.9 227.5,156.4 227.9,156.4 228.3,157.3 228.6,158.2 229.1,158.8 229.5,159.5 229.6,160.4 230.1,161.1 230.4,161.6 231,161.7 231.3,162.8 232,163.3 232.5,164.7 232.9,165.3 233.3,165.9 234,166.9 234.5,167.3 234.8,167.8 235.3,168.1 235.6,169 236.2,169.6 236.4,170.3 237.2,171.2 237.6,171.6 238.5,172.6 239.2,173.5 239.6,174.3 240.1,174.4 240.7,175 240.9,175.6 241.3,176.6 241.9,177.3 242.4,177.4 243,178.1 243.3,178.8 243.8,179.8 244.3,180.3 244.9,180.6 245.3,181.5 246,182.3 246.5,182.9 246.9,183.7 247.4,183.9 248,184.6 248.5,185.4 249,186.2 249.5,186.7 249.9,187.4 250.5,188.1 250.8,188.4 251.7,188.6 252.2,189.8 252.8,190 253.3,191 253.7,191.8 254.4,192.2 254.9,192.9 255.5,193.7 256.1,193.8 256.6,194.8 257.1,195.3 257.7,195.7 257.9,196.4 258.8,197 259.2,197.9 259.8,198 260.3,198.9 260.8,199.3 261.7,200.5 262.2,201.2 262.7,201.2 263.4,202.6 263.9,202.5 264.5,204 264.9,204.4 265.6,205 266.2,205.7 266.7,206.4 267,206.8 268.1,207.8 268.4,208.6 268.9,209 269.1,209.5 269.4,209.9 270.1,210 270.7,211.6 271.5,211.9 271.8,212.4 272.3,213.6 273.1,213.8 273.4,214.7 273.6,215.7 273.8,215.7 274.6,216.7 275.2,217.3 275.6,217.7 276.3,218.3 276.7,218.9 277.1,219.4 278,220.3 278,221.1 278.7,221.7 279.4,222.2 279.6,222.4 280.5,223.2 281.3,224.1 282,223.2 283.1,223.7 284,223.7 285.2,223.8 286,224 286.7,223.7 287.3,223.8 288.3,224.4 289.1,224.5 290.4,224.9 290.7,224.7 291.6,224.9 292.4,225.4 293.2,225.1 294,225.5 294.8,225.6 295.4,225.6 296.4,225.8 296.9,226.4 298,226 299.1,225.6 300.1,226 301,226 301.8,226.1 302.6,225.5 303.2,225.8 304.2,225.6 305.2,225.3 305.9,224.9 306.3,224.1 306.9,223.4 307.1,222.7 307.5,222 308.6,221.7 308.7,220.9 309.1,219.5 309.6,219.5 310.6,218.7 310.9,217.9 311.6,216.9 312.2,216.4 312.7,215.6 313.2,215.2 314,214.2 314.6,213.1 314.8,212.5 315.1,212 315.6,211.5 315.8,210.1 316.2,209.6 316.4,209 316.9,207.7 317,207.5 316.9,206.5 317.3,205.2 317.7,204.8 317.7,204 318,203.2 318.2,202.3 318.1,201.3 318.5,200 318.9,199.8 318.7,198.6 319,198.3 319.1,197.3 319.2,196.4 319.5,195.7 319.7,195 319.8,194.3 320.1,193.5 320.1,192.5 320.1,191.7 320.3,191 320.3,189.8 320.3,189.4 320.7,188.6 320.5,187.7 320.7,186.7 320.8,186.1 320.8,185 321,184.5 320.9,183.3 321.2,182.8 321.1,182.2 321.2,180.7 321.4,180.1 321.3,179.4 321.2,178.4 321.4,178.4 321.4,177.2 321.7,175.6 321.8,175.3 321.7,174.1" fill="none" stroke="#3a3a3a" stroke-width="1.3" stroke-linejoin="round"/>
<polyline points="48.5,70.7 49.1,70.8 49.7,71.7 50.3,71.5 50.9,72.5 51.5,72.8 52.1,73.1 52.7,74 53.3,74.6 53.9,74.8 54.5,75.2 55.1,76.1 55.7,76 56.3,77.1 56.9,77.6 57.5,78.4 58.1,78.7 58.7,79 59.3,79.5 59.9,79.9 60.5,80.1 61.1,81.4 61.7,81.7 62.3,82 62.9,82.3 63.5,83.6 64.1,83.8 64.7,83.9 65.3,84.9 65.9,85.7 66.5,85.6 67.1,86.2 67.7,86.4 68.3,86.8 68.9,87.8 69.5,88.8 70.1,88.4 70.7,88.9 71.3,89.7 71.9,89.9 72.5,90.8 73.1,91.4 73.7,91.4 74.3,91.9 74.9,92.7 75.5,93.6 76.1,93.9 76.7,94.8 77.3,94.5 77.9,95.6 78.5,95.8 79.1,96.6 79.7,97.2 80.3,97.3 80.9,98.1 81.5,98.4 82.1,99.3 82.7,99.5 83.3,100.2 83.9,101.1 84.5,101.6 85.1,102.9 85.7,103.2 86.3,104.4 86.9,105 87.5,105.4 88.1,106.4 88.7,107 89.3,108 89.9,108.8 90.5,110 91.1,110 91.7,111.2 92.3,111.4 92.9,111.5 93.5,111.8 94.1,113.3 94.7,113.1 95.3,114.5 95.9,115.2 96.5,115.6 97.1,116 97.7,116.5 98.3,117.1 98.9,117.5 99.5,117.9 100.1,118.5 100.7,119.7 101.3,119.9 101.9,120.9 102.5,121.2 103.1,122 103.7,122.5 104.3,123.6 104.9,124.7 105.5,125.3 106.1,125.9 106.7,127 107.3,127.5 107.9,128.5 108.5,129.2 109.1,130.2 109.7,130.2 110.3,131.5 110.9,133 111.5,133.7 112.1,135.2 112.7,135.4 113.3,136.2 113.9,137.7 114.5,138.4 115.1,139.7 115.7,140.2 116.3,140.9 116.9,142.1 117.5,142.5 118.1,143.4 118.7,144.2 119.3,145.1 119.9,146.2 120.5,146.6 121.1,147.7 121.7,148.2 122.3,149.4 122.9,148.9 123.5,150.2 124.1,150.9 124.7,151.2 125.3,152.4 125.9,152.7 126.5,153.6 127.1,154.1 127.7,154.6 128.3,154.9 128.9,155.2 129.5,156.1 130.1,156.5 130.7,157.2 131.3,157.4 131.9,158.8 132.5,157.9 133.1,159.1 133.7,159 134.3,159.5 134.9,160.2 135.5,160.3 136.1,160.2 136.7,160.9 137.3,161 137.9,160.7 138.5,161.7 139.1,161.6 139.7,161.9 140.3,162.5 140.9,162.7 141.5,162.7 142.1,163.6 142.7,163.3 143.3,163.3 143.9,163.7 144.5,163.8 145.1,163.4 145.7,163.8 146.3,163.9 146.9,165.1 147.5,164.6 148.1,164.7 148.7,164.7 149.3,165.3 149.9,165.1 150.5,166.1 151.1,165.8 151.7,166.3 152.3,165.6 152.9,165.9 153.5,165.7 154.1,165.9 154.7,165.3 155.3,165.9 155.9,165.9 156.5,166.2 157.1,167.2 157.7,166.9 158.3,167.5 158.9,167.4 159.5,167.6 160.1,167.8 160.7,167.1 161.3,168 161.9,167.5 162.5,167.6 163.1,168.5 163.7,169.2 164.3,167.8 164.9,169.2 165.5,168.9 166.1,168.1 166.7,168.8 167.3,168.9 167.9,169 168.5,168.7 169.1,168.4 169.7,169.1 170.3,169.6 170.9,169.6 171.5,169.6 172.1,169.9 172.7,169 173.3,169.6 173.9,169.8 174.5,170.2 175.1,169.9 175.7,170.2 176.3,170 176.9,171.1 177.5,169.1 178.1,170.2 178.7,171.5 179.3,170.5 179.9,169.6 180.5,170.6 181.1,169.9 181.7,170.4 182.3,170.9 182.9,171.7 183.5,171.1 184.1,171.3 184.7,171.5 185.3,171.2 185.9,170.8 186.5,171.2 187.1,171.5 187.7,171.3 188.3,171.2 188.9,171.4 189.5,170.9 190.1,171.2 190.7,171.7 191.3,171.6 191.9,171.8 192.5,172.5 193.1,172 193.7,171.9 194.3,171.4 194.9,171.5 195.5,172.2 196.1,171.6 196.7,172.3 197.3,171.6 197.9,172.2 198.5,172.2 199.1,172.7 199.7,172.1 200.3,172.2 200.9,172.5 201.5,172.5 202.1,173.3 202.7,172.5 203.3,172.4 203.9,172.5 204.5,173 205.1,172.9 205.7,173.2 206.3,172.2 206.9,174.1 207.5,173.9 208.1,173 208.7,172.5 209.3,173.2 209.9,173.4 210.5,172.1 211.1,173.3 211.7,172.6 212.3,173.6 212.9,174.1 213.5,173.9 214.1,172.8 214.7,174.2 215.3,174 215.9,173.4 216.5,173.9 217.1,174.4 217.7,173.6 218.3,173.8 218.9,173.6 219.5,174.4 220.1,172.9 220.7,174.6 221.3,173.5 221.9,174.5 222.5,173.3 223.1,173.7 223.7,173.9 224.3,174.6 224.9,173.4 225.5,174.5 226.1,174 226.7,174.9 227.3,174.2 227.9,174.6 228.5,174.3 229.1,175.3 229.7,174.3 230.3,174.5 230.9,175.5 231.5,174.7 232.1,175 232.7,174.3 233.3,174.8 233.9,173.7 234.5,174.9 235.1,174.5 235.7,174.1 236.3,174.2 236.9,175.5 237.5,175.2 238.1,174.3 238.7,175.9 239.3,174.8 239.9,175 240.5,175.3 241.1,174.7 241.7,174.5 242.3,174.9 242.9,175.9 243.5,175.8 244.1,174.6 244.7,176 245.3,175.5 245.9,175.7 246.5,175.6 247.1,175.8 247.7,175.1 248.3,175.2 248.9,175.3 249.5,175.5 250.1,176 250.7,175.1 251.3,176.5 251.9,175.4 252.5,175.5 253.1,176.1 253.7,176 254.3,175.6 254.9,175.3 255.5,175.3 256.1,174.9 256.7,176.2 257.3,176.1 257.9,176.5 258.5,175.8 259.1,175.6 259.7,175.8 260.3,176 260.9,175.2 261.5,175.5 262.1,176.6 262.7,174.1 263.3,174.2 263.9,174.4 264.5,175.4 265.1,175.7 265.7,174.6 266.3,175.2 266.9,174.7 267.5,174.8 268.1,174.2 268.7,174.5 269.3,174.5 269.9,175.1 270.5,175.8 271.1,173.2 271.7,174.7 272.3,174.3 272.9,174.9 273.5,174.9 274.1,174.7 274.7,174.7 275.3,173.6 275.9,173.1 276.5,175.2 277.1,174.9 277.7,173.4 278.3,174.7 278.9,174.3 279.5,172.2 280.1,174.2 280.7,173 281.3,174.2 281.9,173 282.5,172.8 283.1,172.2 283.7,173 284.3,173.7 284.9,172.5 285.5,171.7 286.1,174.1 286.7,173.9 287.3,173.1 287.9,172.2 288.5,171.7 289.1,171.4 289.7,172.6 290.3,173 290.9,171.5 291.5,172.1 292.1,171.8 292.7,171.8 293.3,172.3 293.9,173.3 294.5,171.6 295.1,172.5 295.7,172.6 296.3,171.8 296.9,171.8 297.5,171.1 298.1,172.6 298.7,171.6 299.3,171.5 299.9,172 300.5,171.5 301.1,171.4 301.7,171.9 302.3,173.1 302.9,172.1 303.5,172.6 304.1,171.4 304.7,171.2 305.3,173.6 305.9,172.3 306.5,171.6 307.1,172.6 307.7,173.1 308.3,171.7 308.9,172.3 309.5,173.1 310.1,172.4 310.7,173.6 311.3,173.9 311.9,173.7 312.5,173.3 313.1,173.6 313.7,173.4 314.3,173.8 314.9,174.3 315.5,174.2 316.1,175.3 316.7,176.6 317.3,175 317.9,175.8 318.5,176.4 319.1,176.3 319.7,175.6 320.3,175.3 320.9,176.1" fill="none" stroke="#ec4d4d" stroke-width="1.45" stroke-linejoin="round"/>
<path d="M404 77.8C405.1 78.9 407.6 81.5 410.4 84.5C413.1 87.5 417.1 91.6 420.5 95.8C423.9 100 427.2 104.7 430.5 109.5C433.8 114.3 437.7 120.2 440.3 124.5C442.9 128.8 443.2 129.6 446 135C448.8 140.4 453.5 149.9 457.2 157C460.9 164.1 465.9 172.6 468.4 177.3C470.9 182 471.3 182.9 472.4 185C473.4 187.1 474 188.4 474.7 189.6C475.4 190.8 475.8 191.3 476.5 192C477.2 192.7 477.9 193.3 479 193.9C480.1 194.5 481.6 195 483 195.6C484.4 196.2 485.5 197 487.5 197.6C489.5 198.2 492.1 198.8 495 199.4C497.9 200 500.4 200.4 505 201C509.6 201.6 516.8 202.3 522.6 202.8C528.5 203.3 534.3 203.8 540.1 204.2C545.9 204.6 551.8 204.9 557.6 205.1C563.4 205.3 568.9 205.2 575.1 205.4C581.3 205.6 588.3 205.7 595 206C601.7 206.3 608.4 206.5 615.1 207.1C621.8 207.7 629.2 208.5 635 209.3C640.8 210.1 645.1 211.2 650.1 212.1C655.1 213 661.7 214.2 665.2 214.8C668.7 215.4 670.3 215.7 671.3 215.9" fill="none" stroke="#ee0000" stroke-width="3.1" stroke-linecap="round"/>
<path d="M404 43.5C406.7 44 414 45.1 420 46.3C426 47.5 433.3 49.3 440 50.8C446.7 52.3 455.5 54.3 460 55.3C464.5 56.2 465 56.2 467 56.5C469 56.8 469.8 56.9 472 57C474.2 57.1 477.8 57.2 480 57.1C482.2 57 483.3 56.8 485 56.5C486.7 56.2 488 55.8 490 55.5C492 55.2 494.9 55 497 55C499.1 55 501.1 55.1 502.5 55.5C503.9 55.9 504.6 56.5 505.5 57.4C506.4 58.2 507.2 59.3 508 60.6C508.8 61.9 509.8 63.5 510.5 65C511.2 66.5 511.4 67.2 512.5 69.5C513.6 71.8 515.4 76.4 517 78.6C518.6 80.8 520.3 81.6 522 82.8C523.7 84 524.8 85.2 527 86C529.2 86.8 532.2 87 535 87.3C537.8 87.6 541.1 87.8 543.6 88C546.1 88.2 548 87.8 550 88.2C552 88.7 553.6 89.3 555.3 90.7C557 92.1 559 95 560.3 96.5C561.6 98 562 98.1 563.1 100C564.2 101.9 565.8 104.7 567.1 108C568.4 111.3 569.8 116.1 571.1 120.1C572.4 124.1 573.9 128.2 575.1 132.2C576.3 136.2 577.2 139.7 578.2 144.3C579.2 148.9 580.4 156.2 581.2 160C582 163.8 582.2 163.6 583.1 167.1C584 170.6 585.4 176.5 586.5 181.2C587.6 185.9 588.6 191.3 589.7 195.3C590.8 199.3 591.7 202.3 593.2 205.3C594.7 208.3 597 211.2 598.6 213.4C600.2 215.7 601.5 217 603.1 218.8C604.7 220.6 606.8 223.1 608.4 224.2C610 225.3 610.9 225.1 612.5 225.3C614.1 225.5 616 225.2 617.8 225.5C619.6 225.8 621.4 226.3 623.2 226.9C625 227.5 626.8 227.9 628.6 228.9C630.4 229.9 632.2 231.9 634 232.9C635.8 233.9 637.1 234.4 639.3 235.2C641.5 236 644.7 237.2 647.1 237.5C649.5 237.8 651.8 237.4 653.9 237C656 236.6 658.3 235.9 659.9 235C661.5 234.1 662.6 233 663.7 231.7C664.8 230.4 665.8 228.7 666.7 227.2C667.6 225.7 668.3 224.1 669 222.7C669.7 221.2 670.5 219.2 670.8 218.5" fill="none" stroke="#000" stroke-width="3.3" stroke-linecap="round"/>
<g><circle cx="406" cy="43.4" r="1.9" fill="#000"/><circle cx="406" cy="43.4" r="0.85" fill="#fff"/><circle cx="412.1" cy="40.7" r="1.45" fill="#000"/><circle cx="418.5" cy="43.7" r="1.45" fill="#000"/><circle cx="424.8" cy="50.4" r="1.45" fill="#000"/><circle cx="431.1" cy="46.8" r="1.45" fill="#000"/><circle cx="437.6" cy="48.8" r="1.9" fill="#000"/><circle cx="437.6" cy="48.8" r="0.85" fill="#fff"/><circle cx="444" cy="52.6" r="1.9" fill="#000"/><circle cx="444" cy="52.6" r="0.85" fill="#fff"/><circle cx="450.3" cy="54.2" r="1.9" fill="#000"/><circle cx="450.3" cy="54.2" r="0.85" fill="#fff"/><circle cx="456.5" cy="54" r="1.9" fill="#000"/><circle cx="456.5" cy="54" r="0.85" fill="#fff"/><circle cx="463" cy="62.2" r="1.45" fill="#000"/><circle cx="469.3" cy="58.5" r="1.9" fill="#000"/><circle cx="469.3" cy="58.5" r="0.85" fill="#fff"/><circle cx="476" cy="53.1" r="1.45" fill="#000"/><circle cx="481.8" cy="56.8" r="1.9" fill="#000"/><circle cx="481.8" cy="56.8" r="0.85" fill="#fff"/><circle cx="488.6" cy="54.3" r="1.9" fill="#000"/><circle cx="488.6" cy="54.3" r="0.85" fill="#fff"/><circle cx="494.9" cy="54.3" r="1.9" fill="#000"/><circle cx="494.9" cy="54.3" r="0.85" fill="#fff"/><circle cx="501.1" cy="53.8" r="1.9" fill="#000"/><circle cx="501.1" cy="53.8" r="0.85" fill="#fff"/><circle cx="507.8" cy="71.1" r="1.45" fill="#000"/><circle cx="513.7" cy="86" r="1.45" fill="#000"/><circle cx="520.2" cy="81.5" r="1.9" fill="#000"/><circle cx="520.2" cy="81.5" r="0.85" fill="#fff"/><circle cx="526.8" cy="86" r="1.9" fill="#000"/><circle cx="526.8" cy="86" r="0.85" fill="#fff"/><circle cx="533.2" cy="91" r="1.45" fill="#000"/><circle cx="539.4" cy="86.8" r="1.9" fill="#000"/><circle cx="539.4" cy="86.8" r="0.85" fill="#fff"/><circle cx="545.7" cy="84" r="1.45" fill="#000"/><circle cx="552" cy="88.5" r="1.9" fill="#000"/><circle cx="552" cy="88.5" r="0.85" fill="#fff"/><circle cx="558.7" cy="94.4" r="1.9" fill="#000"/><circle cx="558.7" cy="94.4" r="0.85" fill="#fff"/><circle cx="565" cy="108.7" r="1.45" fill="#000"/><circle cx="571.5" cy="120.1" r="1.9" fill="#000"/><circle cx="571.5" cy="120.1" r="0.85" fill="#fff"/><circle cx="577.5" cy="138.7" r="1.9" fill="#000"/><circle cx="577.5" cy="138.7" r="0.85" fill="#fff"/><circle cx="583.7" cy="175.5" r="1.9" fill="#000"/><circle cx="583.7" cy="175.5" r="0.85" fill="#fff"/><circle cx="590.1" cy="200.3" r="1.9" fill="#000"/><circle cx="590.1" cy="200.3" r="0.85" fill="#fff"/><circle cx="596.2" cy="211.4" r="1.9" fill="#000"/><circle cx="596.2" cy="211.4" r="0.85" fill="#fff"/><circle cx="602.4" cy="218.1" r="1.9" fill="#000"/><circle cx="602.4" cy="218.1" r="0.85" fill="#fff"/><circle cx="609.1" cy="225.5" r="1.9" fill="#000"/><circle cx="609.1" cy="225.5" r="0.85" fill="#fff"/><circle cx="615.8" cy="225.5" r="1.9" fill="#000"/><circle cx="615.8" cy="225.5" r="0.85" fill="#fff"/><circle cx="621.9" cy="226.9" r="1.9" fill="#000"/><circle cx="621.9" cy="226.9" r="0.85" fill="#fff"/><circle cx="627.9" cy="228.2" r="1.9" fill="#000"/><circle cx="627.9" cy="228.2" r="0.85" fill="#fff"/><circle cx="634" cy="232.9" r="1.9" fill="#000"/><circle cx="634" cy="232.9" r="0.85" fill="#fff"/><circle cx="641" cy="236.3" r="1.9" fill="#000"/><circle cx="641" cy="236.3" r="0.85" fill="#fff"/><circle cx="647.8" cy="238.1" r="1.9" fill="#000"/><circle cx="647.8" cy="238.1" r="0.85" fill="#fff"/><circle cx="653.9" cy="236.3" r="1.9" fill="#000"/><circle cx="653.9" cy="236.3" r="0.85" fill="#fff"/><circle cx="660.7" cy="235.5" r="1.9" fill="#000"/><circle cx="660.7" cy="235.5" r="0.85" fill="#fff"/><circle cx="666.7" cy="226.9" r="1.9" fill="#000"/><circle cx="666.7" cy="226.9" r="0.85" fill="#fff"/><circle cx="673.5" cy="218.9" r="1.45" fill="#000"/><circle cx="602.3" cy="217.8" r="1.9" fill="#000"/><circle cx="602.3" cy="217.8" r="0.85" fill="#fff"/><circle cx="605.6" cy="221.3" r="1.9" fill="#000"/><circle cx="605.6" cy="221.3" r="0.85" fill="#fff"/><circle cx="608.9" cy="224.3" r="1.9" fill="#000"/><circle cx="608.9" cy="224.3" r="0.85" fill="#fff"/><circle cx="612.2" cy="225.2" r="1.9" fill="#000"/><circle cx="612.2" cy="225.2" r="0.85" fill="#fff"/><circle cx="615.5" cy="225.4" r="1.9" fill="#000"/><circle cx="615.5" cy="225.4" r="0.85" fill="#fff"/><circle cx="618.8" cy="225.8" r="1.9" fill="#000"/><circle cx="618.8" cy="225.8" r="0.85" fill="#fff"/><circle cx="622.1" cy="226.6" r="1.9" fill="#000"/><circle cx="622.1" cy="226.6" r="0.85" fill="#fff"/><circle cx="625.4" cy="227.7" r="1.9" fill="#000"/><circle cx="625.4" cy="227.7" r="0.85" fill="#fff"/><circle cx="628.7" cy="229" r="1.9" fill="#000"/><circle cx="628.7" cy="229" r="0.85" fill="#fff"/><circle cx="632" cy="231.4" r="1.9" fill="#000"/><circle cx="632" cy="231.4" r="0.85" fill="#fff"/><circle cx="635.3" cy="233.5" r="1.9" fill="#000"/><circle cx="635.3" cy="233.5" r="0.85" fill="#fff"/><circle cx="638.6" cy="234.9" r="1.9" fill="#000"/><circle cx="638.6" cy="234.9" r="0.85" fill="#fff"/></g>
<g><circle cx="571.1" cy="205.3" r="1.9" fill="#c00000"/><circle cx="571.1" cy="205.3" r="0.85" fill="#fff"/><circle cx="574.1" cy="205.4" r="1.9" fill="#c00000"/><circle cx="574.1" cy="205.4" r="0.85" fill="#fff"/><circle cx="577.2" cy="205.5" r="1.9" fill="#c00000"/><circle cx="577.2" cy="205.5" r="0.85" fill="#fff"/><circle cx="580.2" cy="205.6" r="1.9" fill="#c00000"/><circle cx="580.2" cy="205.6" r="0.85" fill="#fff"/><circle cx="583.3" cy="205.6" r="1.9" fill="#c00000"/><circle cx="583.3" cy="205.6" r="0.85" fill="#fff"/><circle cx="586.4" cy="205.7" r="1.9" fill="#c00000"/><circle cx="586.4" cy="205.7" r="0.85" fill="#fff"/><circle cx="589.4" cy="205.8" r="1.9" fill="#c00000"/><circle cx="589.4" cy="205.8" r="0.85" fill="#fff"/><circle cx="592.5" cy="205.9" r="1.9" fill="#c00000"/><circle cx="592.5" cy="205.9" r="0.85" fill="#fff"/><circle cx="595.5" cy="206" r="1.9" fill="#c00000"/><circle cx="595.5" cy="206" r="0.85" fill="#fff"/><circle cx="598.6" cy="206.2" r="1.9" fill="#c00000"/><circle cx="598.6" cy="206.2" r="0.85" fill="#fff"/></g>
<g><circle cx="407" cy="80" r="1.9" fill="#c00000"/><circle cx="407" cy="80" r="0.85" fill="#fff"/><circle cx="405.6" cy="84.5" r="1.45" fill="#c00000"/><circle cx="412.1" cy="88.5" r="1.9" fill="#c00000"/><circle cx="412.1" cy="88.5" r="0.85" fill="#fff"/><circle cx="418.5" cy="87.7" r="1.45" fill="#c00000"/><circle cx="424.8" cy="116.7" r="1.45" fill="#c00000"/><circle cx="431.2" cy="115.3" r="1.45" fill="#c00000"/><circle cx="437.6" cy="117.7" r="1.45" fill="#c00000"/><circle cx="444.3" cy="133.1" r="1.9" fill="#c00000"/><circle cx="444.3" cy="133.1" r="0.85" fill="#fff"/><circle cx="450.3" cy="128" r="1.45" fill="#c00000"/><circle cx="456.9" cy="158.7" r="1.9" fill="#c00000"/><circle cx="456.9" cy="158.7" r="0.85" fill="#fff"/><circle cx="463.6" cy="171.4" r="1.9" fill="#c00000"/><circle cx="463.6" cy="171.4" r="0.85" fill="#fff"/><circle cx="469.7" cy="188.9" r="1.45" fill="#c00000"/><circle cx="476.1" cy="199.3" r="1.45" fill="#c00000"/><circle cx="481.9" cy="195.4" r="1.9" fill="#c00000"/><circle cx="481.9" cy="195.4" r="0.85" fill="#fff"/><circle cx="488.4" cy="199.3" r="1.45" fill="#c00000"/><circle cx="494.5" cy="197.5" r="1.45" fill="#c00000"/><circle cx="501.2" cy="202.8" r="1.45" fill="#c00000"/><circle cx="507.3" cy="198.4" r="1.45" fill="#c00000"/><circle cx="513.8" cy="204.5" r="1.45" fill="#c00000"/><circle cx="520.5" cy="197.2" r="1.45" fill="#c00000"/><circle cx="526.6" cy="207.2" r="1.45" fill="#c00000"/><circle cx="533.1" cy="209.8" r="1.45" fill="#c00000"/><circle cx="539.7" cy="205.9" r="1.45" fill="#c00000"/><circle cx="545.7" cy="204.9" r="1.9" fill="#c00000"/><circle cx="545.7" cy="204.9" r="0.85" fill="#fff"/><circle cx="552" cy="208.9" r="1.45" fill="#c00000"/><circle cx="558.5" cy="205.4" r="1.9" fill="#c00000"/><circle cx="558.5" cy="205.4" r="0.85" fill="#fff"/><circle cx="565" cy="209.4" r="1.45" fill="#c00000"/><circle cx="571.3" cy="205.9" r="1.9" fill="#c00000"/><circle cx="571.3" cy="205.9" r="0.85" fill="#fff"/><circle cx="577.7" cy="204.5" r="1.9" fill="#c00000"/><circle cx="577.7" cy="204.5" r="0.85" fill="#fff"/><circle cx="583.9" cy="204.5" r="1.9" fill="#c00000"/><circle cx="583.9" cy="204.5" r="0.85" fill="#fff"/><circle cx="590" cy="205" r="1.9" fill="#c00000"/><circle cx="590" cy="205" r="0.85" fill="#fff"/><circle cx="596.3" cy="205.4" r="1.9" fill="#c00000"/><circle cx="596.3" cy="205.4" r="0.85" fill="#fff"/><circle cx="599" cy="205.6" r="1.9" fill="#c00000"/><circle cx="599" cy="205.6" r="0.85" fill="#fff"/><circle cx="602.4" cy="205.6" r="1.9" fill="#c00000"/><circle cx="602.4" cy="205.6" r="0.85" fill="#fff"/><circle cx="605.1" cy="205.1" r="1.45" fill="#c00000"/><circle cx="609.8" cy="205.6" r="1.9" fill="#c00000"/><circle cx="609.8" cy="205.6" r="0.85" fill="#fff"/><circle cx="615.8" cy="206.7" r="1.9" fill="#c00000"/><circle cx="615.8" cy="206.7" r="0.85" fill="#fff"/><circle cx="621.9" cy="209.4" r="1.45" fill="#c00000"/><circle cx="628.6" cy="209.4" r="1.9" fill="#c00000"/><circle cx="628.6" cy="209.4" r="0.85" fill="#fff"/><circle cx="634.6" cy="212.8" r="1.45" fill="#c00000"/><circle cx="641" cy="213.6" r="1.45" fill="#c00000"/><circle cx="647.8" cy="208.8" r="1.45" fill="#c00000"/><circle cx="653.9" cy="211.8" r="1.9" fill="#c00000"/><circle cx="653.9" cy="211.8" r="0.85" fill="#fff"/><circle cx="659.9" cy="212.1" r="1.45" fill="#c00000"/><circle cx="666.7" cy="215.1" r="1.9" fill="#c00000"/><circle cx="666.7" cy="215.1" r="0.85" fill="#fff"/><circle cx="670.5" cy="215.9" r="1.9" fill="#c00000"/><circle cx="670.5" cy="215.9" r="0.85" fill="#fff"/></g>
<line x1="137.1" y1="87.1" x2="161.4" y2="91.1" stroke="#111" stroke-width="1.2"/>
<polygon points="168.3,92.3 160.9,94.3 161.9,88" fill="#000"/>
<line x1="101.6" y1="141.2" x2="83.7" y2="119.5" stroke="#111" stroke-width="1.2"/>
<polygon points="79.3,114.1 86.2,117.5 81.3,121.5" fill="#000"/>
<line x1="437.3" y1="29.6" x2="461.2" y2="38.1" stroke="#111" stroke-width="1.2"/>
<polygon points="467.8,40.4 460.1,41.1 462.3,35" fill="#000"/>
<line x1="478.7" y1="167.6" x2="465.7" y2="137.4" stroke="#111" stroke-width="1.2"/>
<polygon points="462.9,131 468.6,136.2 462.7,138.7" fill="#000"/>
<path d="M199 98.9L199.00 95.45M199 98.9L202.28 97.83M199 98.9L201.03 101.69M199 98.9L196.97 101.69M199 98.9L195.72 97.83" stroke="#d60000" stroke-width="2.05" stroke-linecap="round" fill="none"/>
<path d="M122 164.8L122.00 161.35M122 164.8L125.28 163.73M122 164.8L124.03 167.59M122 164.8L119.97 167.59M122 164.8L118.72 163.73" stroke="#0000cc" stroke-width="2.05" stroke-linecap="round" fill="none"/>
<path d="M545 73.2L545.00 69.75M545 73.2L548.28 72.13M545 73.2L547.03 75.99M545 73.2L542.97 75.99M545 73.2L541.72 72.13" stroke="#d60000" stroke-width="2.05" stroke-linecap="round" fill="none"/>
<path d="M465.4 207L465.40 203.55M465.4 207L468.68 205.93M465.4 207L467.43 209.79M465.4 207L463.37 209.79M465.4 207L462.12 205.93" stroke="#0000cc" stroke-width="2.05" stroke-linecap="round" fill="none"/>
</svg>
</body></html>
